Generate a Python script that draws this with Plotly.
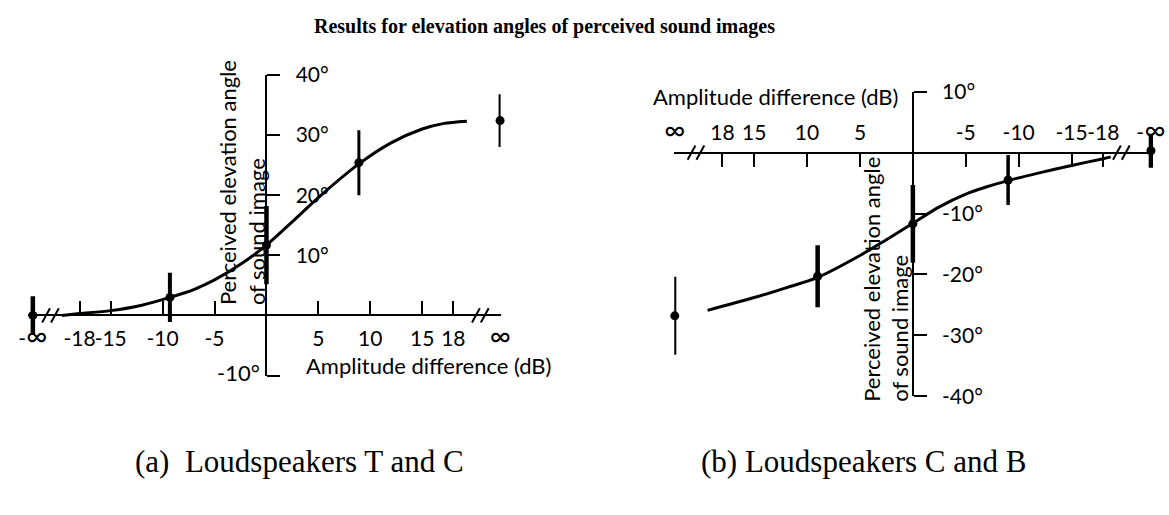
import plotly.graph_objects as go

W, H = 1169, 515
INF = 22.5  # axis position used for the +/- infinity amplitude differences
INF_LABEL = '<span style="font-size:29px">∞</span>'

# ---- panel (a): loudspeakers T and C ----
a_tick_vals = [-INF, -18, -15, -10, -5, 5, 10, 15, 18, INF]
a_tick_text = ["-" + INF_LABEL, "-18", "-15", "-10", "-5", "5", "10", "15", "18", INF_LABEL]
a_y_ticks = [-10, 10, 20, 30, 40]
a_y_text = ["", "10°", "20°", "30°", "40°"]
a_db = [-INF, -9.3, 0, 8.9, INF]
a_angle = [0.0, 3.0, 11.7, 25.4, 32.4]
a_err = [3.2, 4.1, 6.5, 5.4, 4.4]
a_curve_db = [-19.7, -18, -15, -12, -9.3, -7, -5, -2.5, 0, 2.5, 5, 8.9, 12, 15, 17, 19.3]
a_curve_angle = [0.0, 0.3, 0.8, 1.7, 3.0, 4.3, 5.9, 8.5, 11.7, 15.6, 19.6, 25.2, 28.7, 31.0, 31.9, 32.3]

# ---- panel (b): loudspeakers C and B ----
b_tick_vals = [INF, 18, 15, 10, 5, -5, -10, -15, -18, -INF]
b_tick_text = [INF_LABEL, "18", "15", "10", "5", "-5", "-10", "-15", "-18", "-" + INF_LABEL]
b_y_ticks = [-40, -30, -20, -10, 10]
b_y_text = ["-40°", "-30°", "-20°", "-10°", "10°"]
b_db = [INF, 9.0, 0, -9.0, -INF]
b_angle = [-26.8, -20.3, -11.7, -4.5, 0.3]
b_err = [6.4, 5.1, 6.4, 4.1, 2.8]
b_curve_db = [19.4, 15, 12, 9.0, 5, 2.5, 0, -2.5, -5, -7, -9, -11.75, -15, -18, -18.7]
b_curve_angle = [-25.9, -23.8, -22.2, -20.5, -16.9, -14.3, -11.6, -8.9, -6.8, -5.6, -4.6, -3.4, -2.1, -1.0, -0.7]

# error bar stroke widths per point
a_bar_w = [4.5, 4, 4.5, 3, 3]
b_bar_w = [3, 4.5, 4.5, 3.5, 4.5]

SANS = "Lato"
SERIF = "Liberation Serif"
TICK_SIZE = 21
INK = "black"


def fx(px):
    return px / W


def fy(py):
    return 1 - py / H


# panel geometry (pixel extents of the axis lines and their value ranges)
A_XPX, A_XR = (18, 500), [-23, 22.55]
A_YPX, A_YR = (64, 380), [-10, 40]
B_XPX, B_XR = (677, 1165), [22.55, -22.7]
B_YPX, B_YR = (81.7, 401.7), [-40, 10]


def zero_pos(px_span, rng, vertical):
    """Paper coordinate where value 0 falls on an axis."""
    frac = (0 - rng[0]) / (rng[1] - rng[0])
    if vertical:
        top, bottom = px_span
        return fy(bottom - frac * (bottom - top))
    left, right = px_span
    return fx(left + frac * (right - left))


fig = go.Figure()


def add_panel(xa, ya, db, ang, err, widths, cdb, cang):
    fig.add_trace(go.Scatter(
        x=cdb, y=cang, xaxis=xa, yaxis=ya, mode="lines",
        line=dict(color=INK, width=3, shape="spline", smoothing=0.9),
        hoverinfo="skip", showlegend=False, cliponaxis=False))
    for xv, yv, ev, wv in zip(db, ang, err, widths):
        fig.add_trace(go.Scatter(
            x=[xv], y=[yv], xaxis=xa, yaxis=ya, mode="markers",
            marker=dict(color=INK, size=9),
            error_y=dict(type="data", array=[ev], visible=True,
                         color=INK, thickness=wv, width=0),
            showlegend=False, cliponaxis=False))


add_panel("x", "y", a_db, a_angle, a_err, a_bar_w, a_curve_db, a_curve_angle)
add_panel("x2", "y2", b_db, b_angle, b_err, b_bar_w, b_curve_db, b_curve_angle)

axis_common = dict(showgrid=False, zeroline=False, showline=True,
                   linecolor=INK, linewidth=2, ticklen=13, tickwidth=2,
                   tickcolor=INK, tickangle=0,
                   tickfont=dict(family=SANS, size=TICK_SIZE, color=INK),
                   anchor="free", fixedrange=True)

fig.update_layout(
    width=W, height=H,
    margin=dict(l=0, r=0, t=0, b=0),
    paper_bgcolor="white", plot_bgcolor="white",
    xaxis=dict(domain=[fx(A_XPX[0]), fx(A_XPX[1])], range=A_XR,
               tickmode="array", tickvals=a_tick_vals, ticktext=a_tick_text,
               ticks="inside", side="bottom", ticklabelstandoff=4,
               position=zero_pos(A_YPX, A_YR, True), **axis_common),
    yaxis=dict(domain=[fy(A_YPX[1]), fy(A_YPX[0])], range=A_YR,
               tickmode="array", tickvals=a_y_ticks, ticktext=a_y_text,
               ticks="outside", side="right", ticklabelstandoff=11,
               position=zero_pos(A_XPX, A_XR, False), **axis_common),
    xaxis2=dict(domain=[fx(B_XPX[0]), fx(B_XPX[1])], range=B_XR,
                tickmode="array", tickvals=b_tick_vals, ticktext=b_tick_text,
                ticks="inside", side="top", ticklabelstandoff=3,
                position=zero_pos(B_YPX, B_YR, True), **axis_common),
    yaxis2=dict(domain=[fy(B_YPX[1]), fy(B_YPX[0])], range=B_YR,
                tickmode="array", tickvals=b_y_ticks, ticktext=b_y_text,
                ticks="outside", side="right", ticklabelstandoff=11,
                position=zero_pos(B_XPX, B_XR, False), **axis_common),
)

# axis break marks "//" near the infinity ends
A_SX = (A_XPX[1] - A_XPX[0]) / (A_XR[1] - A_XR[0])
A_SY = (A_YPX[1] - A_YPX[0]) / (A_YR[1] - A_YR[0])
B_SX = (B_XPX[1] - B_XPX[0]) / (B_XR[1] - B_XR[0])
B_SY = (B_YPX[1] - B_YPX[0]) / (B_YR[1] - B_YR[0])


def add_break(xref, yref, center, sx, sy):
    for off in (-4.5, 4.5):
        c = center + off / sx
        fig.add_shape(type="line", xref=xref, yref=yref,
                      x0=c - 4 / sx, y0=-7.5 / sy, x1=c + 4 / sx, y1=7.5 / sy,
                      line=dict(color=INK, width=2))


add_break("x", "y", -20.8, A_SX, A_SY)
add_break("x", "y", 20.6, A_SX, A_SY)
add_break("x2", "y2", 20.5, B_SX, B_SY)
add_break("x2", "y2", -19.7, B_SX, B_SY)

txt = dict(family=SANS, size=22, color=INK)
ann = [
    dict(text="<b>Results for elevation angles of perceived sound images</b>",
         x=fx(545), y=fy(13), font=dict(family=SERIF, size=20, color=INK)),
    dict(text="Amplitude difference (dB)", x=fx(427), y=fy(369), font=txt),
    dict(text="Amplitude difference (dB)", x=fx(780), y=fy(87), font=txt),
    dict(text="-10°", x=fx(257), y=fy(377), xanchor="right", font=txt),
    dict(text="Perceived elevation angle<br>of sound image", textangle=-90,
         x=fx(236), y=fy(308), yanchor="bottom", align="left", font=txt),
    dict(text="Perceived elevation angle<br>of sound image", textangle=-90,
         x=fx(892), y=fy(410), yanchor="bottom", align="left", font=txt),
    dict(text="(a)\u00a0 Loudspeakers T and C", x=fx(295), y=fy(470),
         font=dict(family=SERIF, size=31, color=INK)),
    dict(text="(b) Loudspeakers C and B", x=fx(870), y=fy(470),
         font=dict(family=SERIF, size=31, color=INK)),
]
for a in ann:
    a.setdefault("xref", "paper")
    a.setdefault("yref", "paper")
    a.setdefault("showarrow", False)
    a.setdefault("xanchor", "center")
    a.setdefault("yanchor", "middle")
    fig.add_annotation(**a)

fig.write_html("out.html")
